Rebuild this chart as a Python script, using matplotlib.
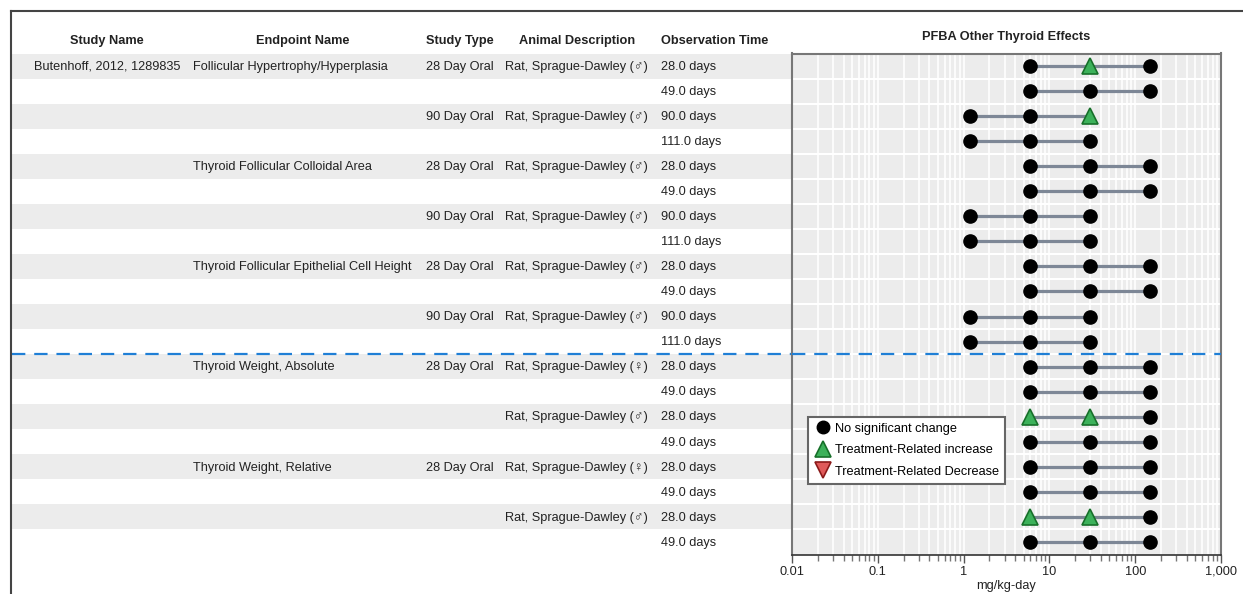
import matplotlib
matplotlib.use("Agg")
import matplotlib.pyplot as plt
from matplotlib.lines import Line2D
from matplotlib.ticker import LogLocator, FuncFormatter, NullFormatter

plt.rcParams['font.family'] = ['Liberation Sans', 'DejaVu Sans']

# ---------------- data ----------------
study_names = ["Butenhoff, 2012, 1289835"] + [""] * 19
endpoints = ["Follicular Hypertrophy/Hyperplasia", "", "", "",
             "Thyroid Follicular Colloidal Area", "", "", "",
             "Thyroid Follicular Epithelial Cell Height", "", "", "",
             "Thyroid Weight, Absolute", "", "", "",
             "Thyroid Weight, Relative", "", "", ""]
study_types = ["28 Day Oral", "", "90 Day Oral", "",
               "28 Day Oral", "", "90 Day Oral", "",
               "28 Day Oral", "", "90 Day Oral", "",
               "28 Day Oral", "", "", "",
               "28 Day Oral", "", "", ""]
M = "Rat, Sprague-Dawley (\u2642)"
F = "Rat, Sprague-Dawley (\u2640)"
animals = [M, "", M, "", M, "", M, "", M, "", M, "",
           F, "", M, "", F, "", M, ""]
obs_times = ["28.0 days", "49.0 days", "90.0 days", "111.0 days"] * 3 + \
            ["28.0 days", "49.0 days"] * 4
doses = [[6, 30, 150], [6, 30, 150], [1.2, 6, 30], [1.2, 6, 30],
         [6, 30, 150], [6, 30, 150], [1.2, 6, 30], [1.2, 6, 30],
         [6, 30, 150], [6, 30, 150], [1.2, 6, 30], [1.2, 6, 30],
         [6, 30, 150], [6, 30, 150], [6, 30, 150], [6, 30, 150],
         [6, 30, 150], [6, 30, 150], [6, 30, 150], [6, 30, 150]]
effects = [["n", "i", "n"], ["n", "n", "n"], ["n", "n", "i"], ["n", "n", "n"],
           ["n", "n", "n"], ["n", "n", "n"], ["n", "n", "n"], ["n", "n", "n"],
           ["n", "n", "n"], ["n", "n", "n"], ["n", "n", "n"], ["n", "n", "n"],
           ["n", "n", "n"], ["n", "n", "n"], ["i", "i", "n"], ["n", "n", "n"],
           ["n", "n", "n"], ["n", "n", "n"], ["i", "i", "n"], ["n", "n", "n"]]
headers = ["Study Name", "Endpoint Name", "Study Type", "Animal Description", "Observation Time"]
title = "PFBA Other Thyroid Effects"
xlabel = "mg/kg-day"
divider_after_row = 11

# ---------------- layout ----------------
W, H = 1243, 594
fig = plt.figure(figsize=(W / 100, H / 100), dpi=100)
n = len(obs_times)
top_px, bot_px = 53.5, 554.5
plot_l, plot_r = 792, 1221
tab_l = 12

def fy(px):
    return 1 - px / H

ax_t = fig.add_axes([tab_l / W, fy(bot_px), (plot_l - tab_l) / W, (bot_px - top_px) / H])
ax = fig.add_axes([plot_l / W, fy(bot_px), (plot_r - plot_l) / W, (bot_px - top_px) / H])

# figure frame lines
fig.add_artist(Line2D([11 / W, 11 / W], [0, fy(11)], color='#444444', lw=1.5, transform=fig.transFigure))
fig.add_artist(Line2D([11 / W, 1], [fy(11), fy(11)], color='#444444', lw=1.5, transform=fig.transFigure))

# ---------------- table ----------------
ax_t.set_xlim(tab_l, plot_l)
ax_t.set_ylim(n - 0.5, -0.5)
ax_t.axis('off')
for i in range(n):
    if i % 2 == 0:
        ax_t.axhspan(i - 0.5, i + 0.5, color='#ececec', lw=0)

fs = 9.2
tc = '#222222'
hdr_x = [107, 303, 460, 577, 715]
for hx, h in zip(hdr_x, headers):
    ax_t.text(hx, -0.98, h, ha='center', va='center', fontsize=fs, fontweight='bold',
              color=tc, clip_on=False)
for i in range(n):
    yy = i + 0.03
    ax_t.text(107, yy, study_names[i], ha='center', va='center', fontsize=fs, color=tc)
    ax_t.text(193, yy, endpoints[i], ha='left', va='center', fontsize=fs, color=tc)
    ax_t.text(494, yy, study_types[i], ha='right', va='center', fontsize=fs, color=tc)
    ax_t.text(505, yy, animals[i], ha='left', va='center', fontsize=fs, color=tc)
    ax_t.text(661, yy, obs_times[i], ha='left', va='center', fontsize=fs, color=tc)

dash_col = '#1f7fd6'
ax_t.axhline(divider_after_row + 0.5, color=dash_col, lw=1.6, ls=(0, (6, 4)), clip_on=False)

# ---------------- plot ----------------
ax.set_xscale('log')
ax.set_xlim(0.01, 1000)
ax.set_ylim(n - 0.5, -0.5)
ax.set_facecolor('#ececec')
ax.xaxis.set_major_locator(LogLocator(base=10, numticks=10))
ax.xaxis.set_minor_locator(LogLocator(base=10, subs=range(2, 10), numticks=100))
ax.xaxis.set_major_formatter(FuncFormatter(lambda v, p: f"{v:,.2f}".rstrip('0').rstrip('.') if v < 1 else f"{v:,.0f}"))
ax.xaxis.set_minor_formatter(NullFormatter())
ax.set_yticks([])
ax.grid(True, which='both', axis='x', color='white', lw=1.2)
ax.set_axisbelow(True)
for i in range(n - 1):
    ax.axhline(i + 0.5, color='white', lw=1.5, zorder=0.5)

for s in ['top', 'left', 'right']:
    ax.spines[s].set_color('#777777')
    ax.spines[s].set_linewidth(1.5)
ax.spines['bottom'].set_color('#333333')
ax.spines['bottom'].set_linewidth(1.2)
ax.tick_params(axis='x', which='major', length=6, width=1, color='#555555', labelsize=fs, labelcolor=tc, pad=2)
ax.tick_params(axis='x', which='minor', length=4, width=1, color='#777777')

line_col = '#7d8796'
for i in range(n):
    ax.plot([min(doses[i]), max(doses[i])], [i, i], color=line_col, lw=2.3, zorder=2)
    for d, e in zip(doses[i], effects[i]):
        if e == 'n':
            ax.plot(d, i, 'o', ms=9.5, color='black', zorder=3)
        elif e == 'i':
            ax.plot(d, i, '^', ms=11, mfc='#3cb15a', mec='#17702a', mew=1.2, zorder=3)
        else:
            ax.plot(d, i, 'v', ms=11, mfc='#e05a5a', mec='#8b1a1a', mew=1.2, zorder=3)

ax.axhline(divider_after_row + 0.5, color=dash_col, lw=1.6, ls=(0, (6, 4)), zorder=4)

ax.set_title(title, fontsize=fs, fontweight='bold', color=tc, pad=10)
ax.set_xlabel(xlabel, fontsize=fs, color=tc, labelpad=2)

handles = [
    Line2D([], [], ls='none', marker='o', ms=9, color='black'),
    Line2D([], [], ls='none', marker='^', ms=11, mfc='#3cb15a', mec='#17702a', mew=1.2),
    Line2D([], [], ls='none', marker='v', ms=11, mfc='#e05a5a', mec='#8b1a1a', mew=1.2),
]
labels = ["No significant change", "Treatment-Related increase", "Treatment-Related Decrease"]
leg = ax.legend(handles, labels, loc='upper left', bbox_to_anchor=(0.037, 0.2745),
                borderaxespad=0, fontsize=fs, frameon=True, fancybox=False,
                handletextpad=0.3, handlelength=1.4, labelspacing=0.75, borderpad=0.45)
leg.get_frame().set_edgecolor('#666666')
leg.get_frame().set_linewidth(1.5)
leg.get_frame().set_alpha(1)

fig.savefig("out.png", dpi=100)
